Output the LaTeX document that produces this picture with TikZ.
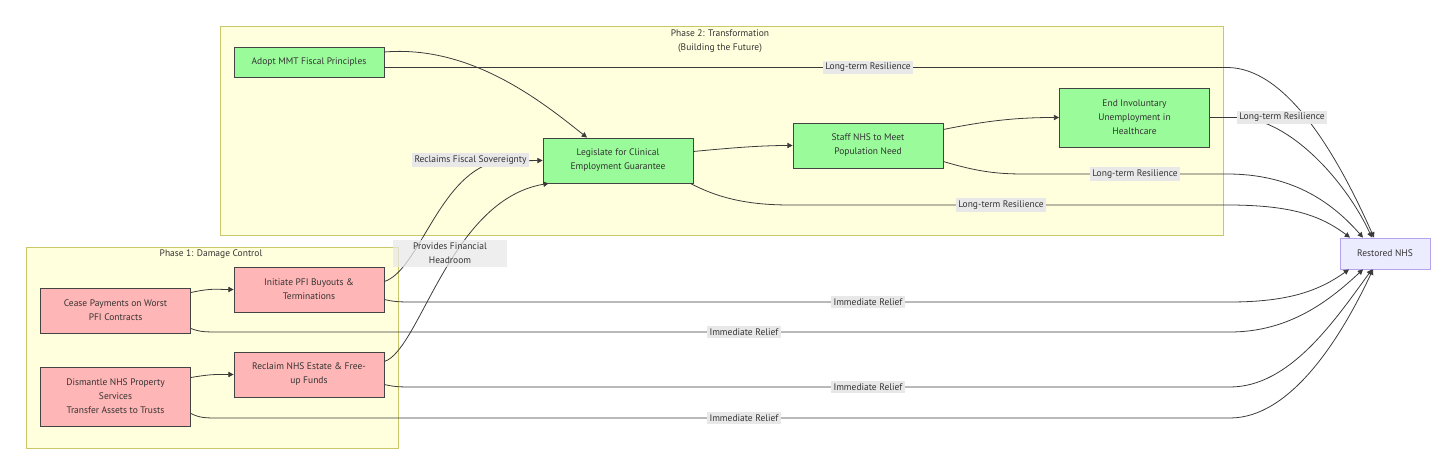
\documentclass[tikz,border=0pt]{standalone}
\usepackage{fontspec}
\setmainfont{PT Sans}
\usepackage{xcolor}
\usepackage{tikz}
\usetikzlibrary{arrows.meta,positioning,calc}
\definecolor{phasefill}{HTML}{FFFFDE}
\definecolor{phaseline}{HTML}{C8C86A}
\definecolor{redfill}{HTML}{FFB6B6}
\definecolor{greenfill}{HTML}{9AFB9A}
\definecolor{boxline}{HTML}{444444}
\definecolor{goalfill}{HTML}{ECECFF}
\definecolor{goalline}{HTML}{B7A2F0}
\definecolor{lblfill}{HTML}{E8E8E8}
\definecolor{edgegray}{HTML}{3A3A3A}
\definecolor{txtgray}{HTML}{333333}

\begin{document}
\begin{tikzpicture}[x=0.02cm, y=-0.02cm,
  every node/.style={font=\fontsize{5.4}{7.9}\selectfont, text=txtgray, align=center, inner sep=1pt},
  phase/.style={draw=phaseline, fill=phasefill, line width=0.5pt},
  redbox/.style={draw=boxline, fill=redfill, line width=0.45pt, minimum width=3cm, minimum height=0.9cm},
  greenbox/.style={draw=boxline, fill=greenfill, line width=0.45pt, minimum width=3cm, minimum height=0.9cm},
  goalbox/.style={draw=goalline, fill=goalfill, line width=0.45pt, minimum width=1.8cm, minimum height=0.62cm},
  lbl/.style={fill=lblfill, inner sep=1.3pt},
  flow/.style={draw=edgegray, line width=0.45pt, -{Triangle[length=3pt,width=3pt]}}]
  \useasboundingbox (0,0) rectangle (1456,475);
  % clusters
  \node[phase, minimum width=20.08cm, minimum height=4.18cm] (ph2) at (722,130.5) {};
  \node (ph2title) at (720,41) {Phase 2: Transformation\\(Building the Future)};
  \node[phase, minimum width=7.44cm, minimum height=4.02cm] (ph1) at (212,347.5) {};
  \node (ph1title) at (211,254) {Phase 1: Damage Control};
  % phase 2 steps
  \node[greenbox, minimum height=0.6cm] (adopt) at (309,62) {Adopt MMT Fiscal Principles};
  \node[greenbox] (legis) at (618,160.5) {Legislate for Clinical\\Employment Guarantee};
  \node[greenbox] (staff) at (868,145.5) {Staff NHS to Meet\\Population Need};
  \node[greenbox, minimum height=1.18cm] (endu) at (1134.5,117.5) {End Involuntary\\Unemployment in\\Healthcare};
  % phase 1 steps
  \node[redbox] (cease) at (115.5,310.5) {Cease Payments on Worst\\PFI Contracts};
  \node[redbox] (init) at (309,289.5) {Initiate PFI Buyouts \&\\Terminations};
  \node[redbox, minimum height=1.18cm] (dism) at (115.5,396.5) {Dismantle NHS Property\\Services\\Transfer Assets to Trusts};
  \node[redbox] (recl) at (309,374.5) {Reclaim NHS Estate \& Free-\\up Funds};
  \node[goalbox] (rest) at (1385,253.5) {Restored NHS};

  % inside phase 1
  \draw[flow] ($(cease.east)+(0,-18)$) .. controls (212,288) and (215,289.5) .. (init.west);
  \draw[flow] ($(dism.east)+(0,-19)$) .. controls (212,374) and (215,374.5) .. (recl.west);
  % into the guarantee
  \draw[flow] ($(init.east)+(0,-8)$) .. controls (420,270) and (440,170) .. (500,161) -- (legis.west);
  \draw[flow] ($(recl.east)+(0,-13)$) .. controls (420,350) and (450,200) .. ($(legis.south west)+(6,0)$);
  \draw[flow] ($(adopt.east)+(0,-10)$) .. controls (470,45) and (540,100) .. ($(legis.north)+(-31,0)$);
  \draw[flow] ($(legis.east)+(0,-9)$) .. controls (730,148) and (760,145.5) .. (staff.west);
  \draw[flow] ($(staff.east)+(0,-16)$) .. controls (990,120) and (1020,117.5) .. (endu.west);
  % long-term resilience
  \draw[flow] ($(adopt.east)+(0,5.5)$) -- (1227,67.5) .. controls (1285,67.5) and (1335,150) .. ($(rest.north)+(-11,0)$);
  \draw[flow] (endu.east) -- (1240,117.5) .. controls (1290,120) and (1345,180) .. ($(rest.north)+(-13,0)$);
  \draw[flow] ($(staff.east)+(0,16)$) .. controls (975,171) and (995,174) .. (1023,174) -- (1227,174) .. controls (1290,174) and (1330,200) .. ($(rest.north)+(-22,0)$);
  \draw[flow] ($(legis.south east)+(-3,0)$) .. controls (720,199) and (750,205) .. (790,205) -- (1227,205) .. controls (1290,205) and (1320,215) .. ($(rest.north)+(-35,0)$);
  % immediate relief
  \draw[flow] ($(init.east)+(0,10)$) .. controls (395,302) and (400,302) .. (415,302) -- (1230,302) .. controls (1290,302) and (1320,290) .. ($(rest.south)+(-36,0)$);
  \draw[flow] ($(cease.east)+(0,18)$) .. controls (200,332) and (205,332) .. (220,332) -- (1230,332) .. controls (1290,332) and (1330,300) .. ($(rest.south)+(-22,0)$);
  \draw[flow] ($(recl.east)+(0,10)$) .. controls (395,387) and (400,387) .. (415,387) -- (1230,387) .. controls (1290,387) and (1335,320) .. ($(rest.south)+(-13,0)$);
  \draw[flow] ($(dism.east)+(0,17)$) .. controls (200,418) and (205,418) .. (220,418) -- (1230,418) .. controls (1290,418) and (1340,340) .. ($(rest.south)+(-12,0)$);

  % edge labels
  \node[lbl] (sov) at (470.5,160) {Reclaims Fiscal Sovereignty};
  \node[lbl, fill opacity=0.75, text opacity=1, minimum width=2.3cm, minimum height=0.54cm] (head) at (450,253.5) {Provides Financial\\Headroom};
  \foreach \x/\y [count=\i] in {868/67.5, 1282/117.5, 1135/174, 1001/205}
    \node[lbl] (lt\i) at (\x,\y) {Long-term Resilience};
  \foreach \x/\y [count=\i] in {868/302, 744/332, 868/387, 744/418}
    \node[lbl] (ir\i) at (\x,\y) {Immediate Relief};
\end{tikzpicture}
\end{document}
